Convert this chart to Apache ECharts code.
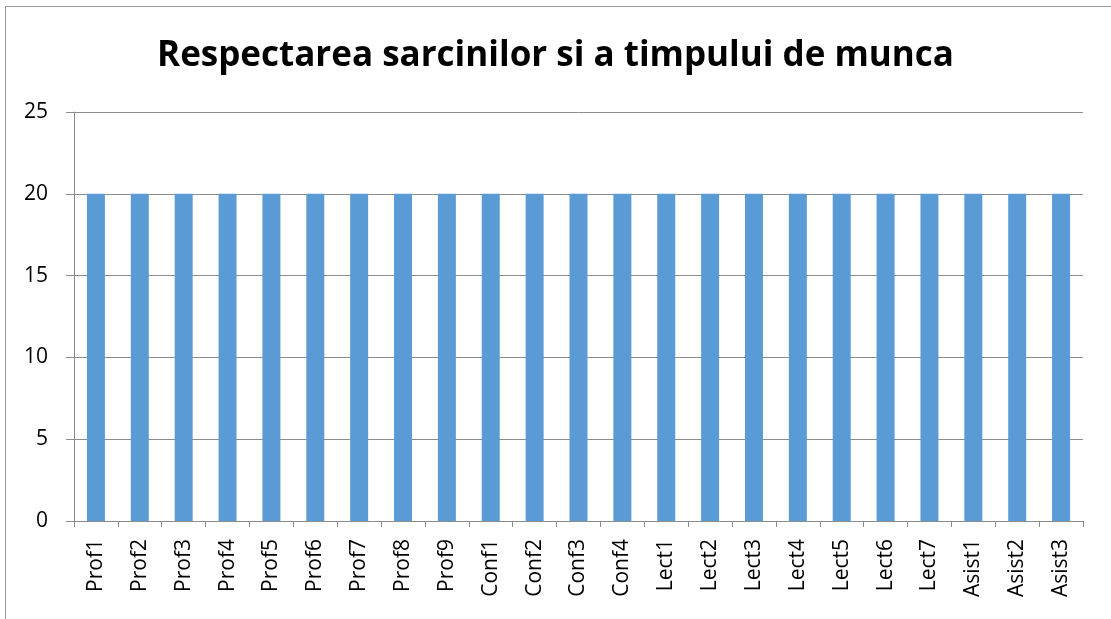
<!DOCTYPE html>
<html>
<head>
<meta charset="utf-8">
<script src="https://cdn.jsdelivr.net/npm/echarts@6/dist/echarts.min.js"></script>
<style>
    html, body { margin: 0; padding: 0; background: #fff; }
    #frame { position: absolute; left: 5px; top: 6px; width: 1120px; height: 640px; border: 1px solid #9a9a9a; }
    #chart { width: 1111px; height: 619px; position: absolute; left: 0; top: 0; }
</style>
</head>
<body>
<div id="frame"></div>
<div id="chart"></div>
<script>
// categorii (cadre didactice)
const categories = ['Prof1', 'Prof2', 'Prof3', 'Prof4', 'Prof5', 'Prof6', 'Prof7', 'Prof8', 'Prof9',
    'Conf1', 'Conf2', 'Conf3', 'Conf4',
    'Lect1', 'Lect2', 'Lect3', 'Lect4', 'Lect5', 'Lect6', 'Lect7',
    'Asist1', 'Asist2', 'Asist3'];
const scores = [20, 20, 20, 20, 20, 20, 20, 20, 20, 20, 20, 20, 20, 20, 20, 20, 20, 20, 20, 20, 20, 20, 20];
const yTicks = [0, 25, 5]; // min, max, interval

let myChart = echarts.init(document.getElementById('chart'));
let option = {
    animation: false,
    title: {
        text: 'Respectarea sarcinilor si a timpului de munca',
        left: 'center',
        top: 34,
        textStyle: {
            fontFamily: 'Open Sans',
            fontWeight: 'bold',
            fontSize: 35,
            color: '#000'
        }
    },
    grid: {
        left: 74,
        right: 28,
        top: 112,
        bottom: 98
    },
    xAxis: {
        type: 'category',
        data: categories,
        axisLine: { lineStyle: { color: '#8c8c8c', width: 1 } },
        axisTick: { show: true, length: 6, alignWithLabel: false, lineStyle: { color: '#8c8c8c' } },
        axisLabel: {
            rotate: 90,
            interval: 0,
            margin: 18,
            fontFamily: 'Open Sans',
            fontSize: 21,
            color: '#000'
        }
    },
    yAxis: {
        type: 'value',
        min: yTicks[0],
        max: yTicks[1],
        interval: yTicks[2],
        axisLine: { show: true, lineStyle: { color: '#8c8c8c', width: 1 } },
        axisTick: { show: true, inside: false, length: 8, lineStyle: { color: '#8c8c8c' } },
        splitLine: { lineStyle: { color: '#8c8c8c', width: 1 } },
        axisLabel: {
            margin: 26,
            fontFamily: 'Open Sans',
            fontSize: 21,
            color: '#000'
        }
    },
    series: [{
        type: 'bar',
        data: scores,
        barWidth: '41%',
        itemStyle: { color: '#5b9bd5' }
    }]
};
myChart.setOption(option);
</script>
</body>
</html>
